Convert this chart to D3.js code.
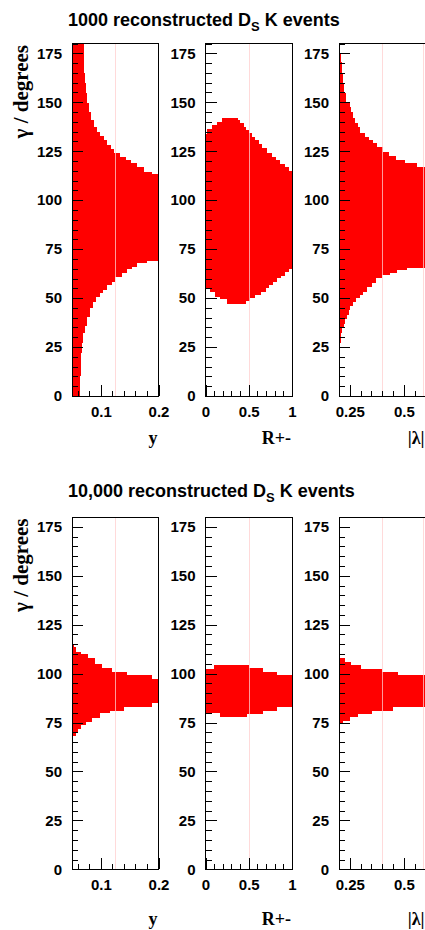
<!DOCTYPE html>
<html>
<head>
<meta charset="utf-8">
<script src="https://cdn.jsdelivr.net/npm/d3@7"></script>
<style>
	body { margin: 0; background: #fff; }
	svg { display: block; }
	.ttl { font-family: "Liberation Sans", Arial, sans-serif; font-weight: bold; font-size: 18px; }
	.axt { font-family: "Liberation Serif", "Times New Roman", serif; font-weight: bold; font-size: 18px; }
</style>
</head>
<body>
<div id="chart"></div>
<script>

// ---- titles / axis titles
var rowTitles = ["1000 reconstructed ", "10,000 reconstructed "];
var xTitles = ["y", "R+-", "|\u03bb|"];
var yTitle = "\u03b3 / degrees";

// ---- x ranges + ticks of the 3 columns
var xDom1 = [0.05, 0.2], xMajor1 = [0.1, 0.2], xMinor1 = [0.06, 0.08, 0.12, 0.14, 0.16, 0.18];
var xDom2 = [0, 1], xMajor2 = [0, 0.5, 1], xMinor2 = [0.1, 0.2, 0.3, 0.4, 0.6, 0.7, 0.8, 0.9];
var xDom3 = [0.2, 0.6], xMajor3 = [0.25, 0.5], xMinor3 = [0.3, 0.35, 0.4, 0.45, 0.55];
var yDom = [0, 180];
var yMajor = [0, 25, 50, 75, 100, 125, 150, 175];
var yMinor = [5, 10, 15, 20, 30, 35, 40, 45, 55, 60, 65, 70, 80, 85, 90, 95, 105, 110, 115, 120, 130, 135, 140, 145, 155, 160, 165, 170, 180];

// true values (thin pink lines)
var truth1 = [0.125], truth2 = [0.5], truth3 = [0.4, 0.59];

// ---- 1000 events
// y : gamma rows (edges) and right end of the allowed band
var p1Edges = [0, 10, 17, 22, 27, 32, 36, 40.5, 45, 48, 50.7, 52.4, 54.1, 56.7, 58.4, 61, 63, 64.7, 65.7, 67.8, 69.1, 113.4, 114.6, 116.8, 118.8, 120.5, 122.2, 124, 126, 128.2, 130.7, 132.8, 135, 137.5, 141, 145.2, 149.5, 154.6, 159.7, 164.8, 180];
var p1Hi = [0.064, 0.065, 0.0656, 0.0673, 0.069, 0.072, 0.076, 0.0807, 0.0865, 0.0924, 0.098, 0.104, 0.11, 0.1186, 0.1244, 0.136, 0.1447, 0.1535, 0.162, 0.1797, 0.2, 0.189, 0.1755, 0.162, 0.152, 0.1435, 0.133, 0.123, 0.117, 0.11, 0.105, 0.098, 0.0935, 0.0883, 0.0837, 0.0795, 0.076, 0.0737, 0.072, 0.0702];
// R+- : columns, upper and lower gamma
var p2TopX = [0, 0.019, 0.07, 0.129, 0.187, 0.371, 0.402, 0.449, 0.472, 0.5, 0.539, 0.578, 0.617, 0.656, 0.715, 0.774, 0.813, 0.863, 0.918, 0.969, 1];
var p2Top = [133.6, 136.2, 138.4, 140.1, 142.2, 141, 139.3, 137.2, 135.9, 134.2, 132.5, 130.7, 128.7, 126.5, 124, 122.2, 120.5, 118.5, 116.8, 115.1];
var p2BotX = [0, 0.05, 0.109, 0.168, 0.246, 0.473, 0.52, 0.578, 0.637, 0.695, 0.735, 0.785, 0.832, 0.871, 0.921, 0.969, 1];
var p2Bot = [55, 53.3, 50.7, 49.4, 47, 48.7, 49.9, 51.6, 53.3, 55.3, 56.7, 58.4, 60.1, 61.3, 63.2, 64.7];
// |lambda| : rows
var p3Edges = [21.8, 24.3, 26.9, 29.4, 32, 34.6, 36.6, 39.2, 41.4, 43.9, 46, 48.2, 49.9, 51.6, 53.3, 55.5, 57.5, 60.1, 61.8, 63, 64.2, 65.5, 116.8, 118.8, 120.5, 122.6, 124.8, 127, 129, 130.7, 132.5, 134.5, 137.2, 139.6, 141.8, 145.2, 147.8, 150.3, 154.6, 159.7, 164.8, 170.7, 175, 180];
var p3Hi = [0.2048, 0.2062, 0.2075, 0.2083, 0.2145, 0.2222, 0.23, 0.2377, 0.2454, 0.2531, 0.2654, 0.2809, 0.2963, 0.3117, 0.3302, 0.3503, 0.3704, 0.3966, 0.4352, 0.466, 0.5124, 0.6, 0.5588, 0.5046, 0.463, 0.432, 0.4013, 0.3765, 0.355, 0.338, 0.3194, 0.2994, 0.2886, 0.2762, 0.2654, 0.2546, 0.25, 0.2346, 0.2238, 0.219, 0.2145, 0.2083, 0.2068];

// ---- 10,000 events
var p4Edges = [66.7, 68.1, 69.8, 71.5, 73.7, 75.4, 77.1, 79.7, 81, 83.1, 84.8, 97.2, 99.2, 100.9, 102.7, 104.7, 107.8, 110, 111.1, 113.4, 115.1];
var p4Hi = [0.0516, 0.0563, 0.0609, 0.0656, 0.0737, 0.0854, 0.0982, 0.1156, 0.14, 0.1883, 0.2, 0.1883, 0.1447, 0.1185, 0.1028, 0.0894, 0.0778, 0.0662, 0.0574, 0.0528];
var p5TopX = [0, 0.1, 0.5, 0.67, 0.83, 1];
var p5Top = [102.3, 104.3, 102.6, 100.6, 99.1];
var p5BotX = [0, 0.17, 0.48, 0.66, 0.83, 1];
var p5Bot = [80, 77.6, 79.3, 81, 83.1];
var p6Edges = [73.7, 74.5, 75.9, 77.6, 79.3, 81, 83.1, 99.2, 100.6, 102.3, 104.3, 106, 107.8, 109.5];
var p6Hi = [0.2037, 0.2191, 0.25, 0.2886, 0.3503, 0.4506, 0.6, 0.4738, 0.3966, 0.304, 0.2577, 0.2269, 0.2068];

//==========================
// LAYOUT
//==========================
var W = 425, H = 930;
var colLeft = [72, 205.5, 339], colW = 86.5;
var rowTop = [43.5, 517], rowBot = [396, 869.3];
var titleY = [26, 496.5], xTitleY = [444, 925];

var cols = [
	{ dom: xDom1, major: xMajor1, minor: xMinor1, truth: truth1 },
	{ dom: xDom2, major: xMajor2, minor: xMinor2, truth: truth2 },
	{ dom: xDom3, major: xMajor3, minor: xMinor3, truth: truth3 }
];

// shape of each panel : rows (band from left edge) or cols (band between two stairs)
var shapes = [
	[{ rows: p1Edges, hi: p1Hi }, { topX: p2TopX, top: p2Top, botX: p2BotX, bot: p2Bot }, { rows: p3Edges, hi: p3Hi }],
	[{ rows: p4Edges, hi: p4Hi }, { topX: p5TopX, top: p5Top, botX: p5BotX, bot: p5Bot }, { rows: p6Edges, hi: p6Hi }]
];

var svg = d3.select("#chart").append("svg")
	.attr("width", W)
	.attr("height", H);

var defs = svg.append("defs");

function regionPoints(s, xmin) {
	var pts = [];
	if (s.rows) {
		pts.push([xmin, s.rows[0]]);
		for (var i = 0; i < s.hi.length; i++) {
			pts.push([s.hi[i], s.rows[i]]);
			pts.push([s.hi[i], s.rows[i + 1]]);
		}
		pts.push([xmin, s.rows[s.rows.length - 1]]);
	} else {
		for (var i = 0; i < s.top.length; i++) {
			pts.push([s.topX[i], s.top[i]]);
			pts.push([s.topX[i + 1], s.top[i]]);
		}
		for (var j = s.bot.length - 1; j >= 0; j--) {
			pts.push([s.botX[j + 1], s.bot[j]]);
			pts.push([s.botX[j], s.bot[j]]);
		}
	}
	return pts;
}

rowTitles.forEach(function(t, r) {

	// title (with subscript S)
	var tt = svg.append("text").attr("class", "ttl")
		.attr("x", 68).attr("y", titleY[r]);
	tt.append("tspan").text(t + "D");
	tt.append("tspan").attr("font-size", "13px").attr("dy", 5).text("S");
	tt.append("tspan").attr("dy", -5).text(" K events");

	var ys = d3.scaleLinear().domain(yDom).range([rowBot[r], rowTop[r]]);

	cols.forEach(function(c, k) {
		var x0 = colLeft[k], x1 = colLeft[k] + colW;
		var xs = d3.scaleLinear().domain(c.dom).range([x0, x1]);
		var g = svg.append("g");

		var cid = "clip" + r + k;
		defs.append("clipPath").attr("id", cid)
			.append("rect")
				.attr("x", x0).attr("y", rowTop[r])
				.attr("width", colW).attr("height", rowBot[r] - rowTop[r]);

		// red band
		var line = d3.line()
			.x(function(d) { return xs(d[0]); })
			.y(function(d) { return ys(d[1]); });
		g.append("path")
			.attr("clip-path", "url(#" + cid + ")")
			.attr("d", line(regionPoints(shapes[r][k], c.dom[0])) + "Z")
			.attr("fill", "#ff0000")
			.attr("shape-rendering", "crispEdges");

		// true value lines
		g.selectAll("line.truth")
			.data(c.truth)
			.enter().append("line")
				.attr("class", "truth")
				.attr("x1", function(d) { return Math.round(xs(d)) + 0.5; })
				.attr("x2", function(d) { return Math.round(xs(d)) + 0.5; })
				.attr("y1", rowTop[r]).attr("y2", rowBot[r])
				.attr("stroke", "#ffcdcd")
				.attr("stroke-opacity", 0.75)
				.attr("stroke-width", 1);

		// y axis (ticks pointing in)
		var yAxMaj = g.append("g").attr("transform", "translate(" + x0 + ",0)")
			.call(d3.axisLeft(ys).tickValues(yMajor).tickSize(-11).tickSizeOuter(0).tickPadding(10));
		var yAxMin = g.append("g").attr("transform", "translate(" + x0 + ",0)")
			.call(d3.axisLeft(ys).tickValues(yMinor).tickSize(-6).tickSizeOuter(0).tickFormat(""));

		// x axis
		var xAxMaj = g.append("g").attr("transform", "translate(0," + rowBot[r] + ")")
			.call(d3.axisBottom(xs).tickValues(c.major).tickSize(-11).tickSizeOuter(0).tickPadding(10)
				.tickFormat(function(d) { return String(d); }));
		var xAxMin = g.append("g").attr("transform", "translate(0," + rowBot[r] + ")")
			.call(d3.axisBottom(xs).tickValues(c.minor).tickSize(-5).tickSizeOuter(0).tickFormat(""));

		[yAxMaj, yAxMin, xAxMaj, xAxMin].forEach(function(a) {
			a.select(".domain").remove();
			a.selectAll("line").attr("stroke", "#000").attr("shape-rendering", "crispEdges");
			a.selectAll("text")
				.attr("fill", "#000")
				.style("font-family", "'Liberation Sans', Arial, sans-serif")
				.style("font-weight", "bold")
				.style("font-size", "15px");
		});

		// frame
		g.append("rect")
			.attr("x", x0).attr("y", rowTop[r])
			.attr("width", colW).attr("height", rowBot[r] - rowTop[r])
			.attr("fill", "none")
			.attr("stroke", "#000")
			.attr("stroke-width", 1)
			.attr("shape-rendering", "crispEdges");

		// x title, right aligned
		g.append("text").attr("class", "axt")
			.attr("x", x1 - 1).attr("y", xTitleY[r])
			.attr("text-anchor", "end")
			.text(xTitles[k]);

		if (k == 0) {
			g.append("text").attr("class", "axt")
				.style("font-size", "21px")
				.attr("transform", "translate(28," + (rowTop[r] + 1.5) + ") rotate(-90)")
				.attr("text-anchor", "end")
				.text(yTitle);
		}
	});
});

</script>
</body>
</html>
